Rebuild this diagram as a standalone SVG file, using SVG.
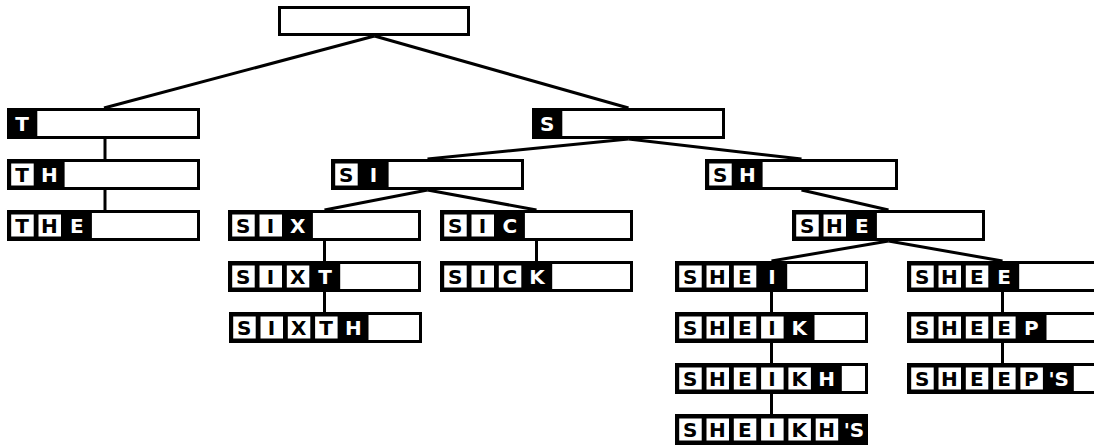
<svg xmlns="http://www.w3.org/2000/svg" width="1094" height="445" viewBox="0 0 1094 445">
<style>
.box{fill:#fff;stroke:#000;stroke-width:3}
.blk{fill:#000}
.wc{fill:#fff}
.t{font-family:"DejaVu Sans","Liberation Sans",sans-serif;font-weight:bold;font-size:20px;text-anchor:middle}
.tw{fill:#fff}
.tb{fill:#000}
.conn line{stroke:#000;stroke-width:3;stroke-linecap:butt}
</style>
<rect width="1094" height="445" fill="#fff"/>
<g class="conn" id="connectors">
<line x1="374.5" y1="36" x2="104" y2="108"/>
<line x1="374.5" y1="36" x2="628.5" y2="108"/>
<line x1="105" y1="139" x2="105" y2="159"/>
<line x1="105" y1="190" x2="105" y2="210"/>
<line x1="628.5" y1="139" x2="427.5" y2="159"/>
<line x1="628.5" y1="139" x2="801.5" y2="159"/>
<line x1="427.5" y1="190" x2="324.5" y2="210"/>
<line x1="427.5" y1="190" x2="536.5" y2="210"/>
<line x1="801.5" y1="190" x2="888.5" y2="210"/>
<line x1="324.5" y1="241" x2="324.5" y2="261"/>
<line x1="324.5" y1="292" x2="324.5" y2="312"/>
<line x1="536.5" y1="241" x2="536.5" y2="261"/>
<line x1="888.5" y1="241" x2="771.5" y2="261"/>
<line x1="888.5" y1="241" x2="1002.5" y2="261"/>
<line x1="771.5" y1="292" x2="771.5" y2="312"/>
<line x1="771.5" y1="343" x2="771.5" y2="363"/>
<line x1="771.5" y1="394" x2="771.5" y2="414"/>
<line x1="1002.5" y1="292" x2="1002.5" y2="312"/>
<line x1="1002.5" y1="343" x2="1002.5" y2="363"/>
</g>
<g id="n-root" transform="translate(278,6)">
<rect class="box" x="1.5" y="1.5" width="189" height="27"/>
</g>
<g id="n-T" transform="translate(7,108)" class="t">
<rect class="box" x="1.5" y="1.5" width="190" height="28"/>
<rect class="blk" x="1.5" y="1.5" width="28.8" height="28"/>
<text class="tw" x="15.15" y="23">T</text>
</g>
<g id="n-TH" transform="translate(7,159)" class="t">
<rect class="box" x="1.5" y="1.5" width="190" height="28"/>
<rect class="blk" x="1.5" y="1.5" width="56.1" height="28"/>
<rect class="wc" x="4.2" y="4.5" width="22.5" height="22"/>
<text class="tb" x="15.15" y="23">T</text>
<text class="tw" x="42.45" y="23">H</text>
</g>
<g id="n-THE" transform="translate(7,210)" class="t">
<rect class="box" x="1.5" y="1.5" width="190" height="28"/>
<rect class="blk" x="1.5" y="1.5" width="83.4" height="28"/>
<rect class="wc" x="4.2" y="4.5" width="22.5" height="22"/>
<rect class="wc" x="31.5" y="4.5" width="22.5" height="22"/>
<text class="tb" x="15.15" y="23">T</text>
<text class="tb" x="42.45" y="23">H</text>
<text class="tw" x="69.75" y="23">E</text>
</g>
<g id="n-S" transform="translate(532,108)" class="t">
<rect class="box" x="1.5" y="1.5" width="190" height="28"/>
<rect class="blk" x="1.5" y="1.5" width="28.8" height="28"/>
<text class="tw" x="15.15" y="23">S</text>
</g>
<g id="n-SI" transform="translate(331,159)" class="t">
<rect class="box" x="1.5" y="1.5" width="190" height="28"/>
<rect class="blk" x="1.5" y="1.5" width="56.1" height="28"/>
<rect class="wc" x="4.2" y="4.5" width="22.5" height="22"/>
<text class="tb" x="15.15" y="23">S</text>
<text class="tw" x="42.45" y="23">I</text>
</g>
<g id="n-SH" transform="translate(705,159)" class="t">
<rect class="box" x="1.5" y="1.5" width="190" height="28"/>
<rect class="blk" x="1.5" y="1.5" width="56.1" height="28"/>
<rect class="wc" x="4.2" y="4.5" width="22.5" height="22"/>
<text class="tb" x="15.15" y="23">S</text>
<text class="tw" x="42.45" y="23">H</text>
</g>
<g id="n-SIX" transform="translate(228,210)" class="t">
<rect class="box" x="1.5" y="1.5" width="190" height="28"/>
<rect class="blk" x="1.5" y="1.5" width="83.4" height="28"/>
<rect class="wc" x="4.2" y="4.5" width="22.5" height="22"/>
<rect class="wc" x="31.5" y="4.5" width="22.5" height="22"/>
<text class="tb" x="15.15" y="23">S</text>
<text class="tb" x="42.45" y="23">I</text>
<text class="tw" x="69.75" y="23">X</text>
</g>
<g id="n-SIC" transform="translate(440,210)" class="t">
<rect class="box" x="1.5" y="1.5" width="190" height="28"/>
<rect class="blk" x="1.5" y="1.5" width="83.4" height="28"/>
<rect class="wc" x="4.2" y="4.5" width="22.5" height="22"/>
<rect class="wc" x="31.5" y="4.5" width="22.5" height="22"/>
<text class="tb" x="15.15" y="23">S</text>
<text class="tb" x="42.45" y="23">I</text>
<text class="tw" x="69.75" y="23">C</text>
</g>
<g id="n-SHE" transform="translate(792,210)" class="t">
<rect class="box" x="1.5" y="1.5" width="190" height="28"/>
<rect class="blk" x="1.5" y="1.5" width="83.4" height="28"/>
<rect class="wc" x="4.2" y="4.5" width="22.5" height="22"/>
<rect class="wc" x="31.5" y="4.5" width="22.5" height="22"/>
<text class="tb" x="15.15" y="23">S</text>
<text class="tb" x="42.45" y="23">H</text>
<text class="tw" x="69.75" y="23">E</text>
</g>
<g id="n-SIXT" transform="translate(228,261)" class="t">
<rect class="box" x="1.5" y="1.5" width="190" height="28"/>
<rect class="blk" x="1.5" y="1.5" width="110.7" height="28"/>
<rect class="wc" x="4.2" y="4.5" width="22.5" height="22"/>
<rect class="wc" x="31.5" y="4.5" width="22.5" height="22"/>
<rect class="wc" x="58.8" y="4.5" width="22.5" height="22"/>
<text class="tb" x="15.15" y="23">S</text>
<text class="tb" x="42.45" y="23">I</text>
<text class="tb" x="69.75" y="23">X</text>
<text class="tw" x="97.05" y="23">T</text>
</g>
<g id="n-SICK" transform="translate(440,261)" class="t">
<rect class="box" x="1.5" y="1.5" width="190" height="28"/>
<rect class="blk" x="1.5" y="1.5" width="110.7" height="28"/>
<rect class="wc" x="4.2" y="4.5" width="22.5" height="22"/>
<rect class="wc" x="31.5" y="4.5" width="22.5" height="22"/>
<rect class="wc" x="58.8" y="4.5" width="22.5" height="22"/>
<text class="tb" x="15.15" y="23">S</text>
<text class="tb" x="42.45" y="23">I</text>
<text class="tb" x="69.75" y="23">C</text>
<text class="tw" x="97.05" y="23">K</text>
</g>
<g id="n-SHEI" transform="translate(675,261)" class="t">
<rect class="box" x="1.5" y="1.5" width="190" height="28"/>
<rect class="blk" x="1.5" y="1.5" width="110.7" height="28"/>
<rect class="wc" x="4.2" y="4.5" width="22.5" height="22"/>
<rect class="wc" x="31.5" y="4.5" width="22.5" height="22"/>
<rect class="wc" x="58.8" y="4.5" width="22.5" height="22"/>
<text class="tb" x="15.15" y="23">S</text>
<text class="tb" x="42.45" y="23">H</text>
<text class="tb" x="69.75" y="23">E</text>
<text class="tw" x="97.05" y="23">I</text>
</g>
<g id="n-SHEE" transform="translate(907,261)" class="t">
<rect class="box" x="1.5" y="1.5" width="190" height="28"/>
<rect class="blk" x="1.5" y="1.5" width="110.7" height="28"/>
<rect class="wc" x="4.2" y="4.5" width="22.5" height="22"/>
<rect class="wc" x="31.5" y="4.5" width="22.5" height="22"/>
<rect class="wc" x="58.8" y="4.5" width="22.5" height="22"/>
<text class="tb" x="15.15" y="23">S</text>
<text class="tb" x="42.45" y="23">H</text>
<text class="tb" x="69.75" y="23">E</text>
<text class="tw" x="97.05" y="23">E</text>
</g>
<g id="n-SIXTH" transform="translate(229,312)" class="t">
<rect class="box" x="1.5" y="1.5" width="190" height="28"/>
<rect class="blk" x="1.5" y="1.5" width="138" height="28"/>
<rect class="wc" x="4.2" y="4.5" width="22.5" height="22"/>
<rect class="wc" x="31.5" y="4.5" width="22.5" height="22"/>
<rect class="wc" x="58.8" y="4.5" width="22.5" height="22"/>
<rect class="wc" x="86.1" y="4.5" width="22.5" height="22"/>
<text class="tb" x="15.15" y="23">S</text>
<text class="tb" x="42.45" y="23">I</text>
<text class="tb" x="69.75" y="23">X</text>
<text class="tb" x="97.05" y="23">T</text>
<text class="tw" x="124.35" y="23">H</text>
</g>
<g id="n-SHEIK" transform="translate(675,312)" class="t">
<rect class="box" x="1.5" y="1.5" width="190" height="28"/>
<rect class="blk" x="1.5" y="1.5" width="138" height="28"/>
<rect class="wc" x="4.2" y="4.5" width="22.5" height="22"/>
<rect class="wc" x="31.5" y="4.5" width="22.5" height="22"/>
<rect class="wc" x="58.8" y="4.5" width="22.5" height="22"/>
<rect class="wc" x="86.1" y="4.5" width="22.5" height="22"/>
<text class="tb" x="15.15" y="23">S</text>
<text class="tb" x="42.45" y="23">H</text>
<text class="tb" x="69.75" y="23">E</text>
<text class="tb" x="97.05" y="23">I</text>
<text class="tw" x="124.35" y="23">K</text>
</g>
<g id="n-SHEEP" transform="translate(907,312)" class="t">
<rect class="box" x="1.5" y="1.5" width="190" height="28"/>
<rect class="blk" x="1.5" y="1.5" width="138" height="28"/>
<rect class="wc" x="4.2" y="4.5" width="22.5" height="22"/>
<rect class="wc" x="31.5" y="4.5" width="22.5" height="22"/>
<rect class="wc" x="58.8" y="4.5" width="22.5" height="22"/>
<rect class="wc" x="86.1" y="4.5" width="22.5" height="22"/>
<text class="tb" x="15.15" y="23">S</text>
<text class="tb" x="42.45" y="23">H</text>
<text class="tb" x="69.75" y="23">E</text>
<text class="tb" x="97.05" y="23">E</text>
<text class="tw" x="124.35" y="23">P</text>
</g>
<g id="n-SHEIKH" transform="translate(675,363)" class="t">
<rect class="box" x="1.5" y="1.5" width="190" height="28"/>
<rect class="blk" x="1.5" y="1.5" width="165.3" height="28"/>
<rect class="wc" x="4.2" y="4.5" width="22.5" height="22"/>
<rect class="wc" x="31.5" y="4.5" width="22.5" height="22"/>
<rect class="wc" x="58.8" y="4.5" width="22.5" height="22"/>
<rect class="wc" x="86.1" y="4.5" width="22.5" height="22"/>
<rect class="wc" x="113.4" y="4.5" width="22.5" height="22"/>
<text class="tb" x="15.15" y="23">S</text>
<text class="tb" x="42.45" y="23">H</text>
<text class="tb" x="69.75" y="23">E</text>
<text class="tb" x="97.05" y="23">I</text>
<text class="tb" x="124.35" y="23">K</text>
<text class="tw" x="151.65" y="23">H</text>
</g>
<g id="n-SHEEPS" transform="translate(907,363)" class="t">
<rect class="box" x="1.5" y="1.5" width="190" height="28"/>
<rect class="blk" x="1.5" y="1.5" width="165.3" height="28"/>
<rect class="wc" x="4.2" y="4.5" width="22.5" height="22"/>
<rect class="wc" x="31.5" y="4.5" width="22.5" height="22"/>
<rect class="wc" x="58.8" y="4.5" width="22.5" height="22"/>
<rect class="wc" x="86.1" y="4.5" width="22.5" height="22"/>
<rect class="wc" x="113.4" y="4.5" width="22.5" height="22"/>
<text class="tb" x="15.15" y="23">S</text>
<text class="tb" x="42.45" y="23">H</text>
<text class="tb" x="69.75" y="23">E</text>
<text class="tb" x="97.05" y="23">E</text>
<text class="tb" x="124.35" y="23">P</text>
<text class="tw" x="151.65" y="23">'S</text>
</g>
<g id="n-SHEIKHS" transform="translate(675,414)" class="t">
<rect class="box" x="1.5" y="1.5" width="190" height="28"/>
<rect class="blk" x="1.5" y="1.5" width="190" height="28"/>
<rect class="wc" x="4.2" y="4.5" width="22.5" height="22"/>
<rect class="wc" x="31.5" y="4.5" width="22.5" height="22"/>
<rect class="wc" x="58.8" y="4.5" width="22.5" height="22"/>
<rect class="wc" x="86.1" y="4.5" width="22.5" height="22"/>
<rect class="wc" x="113.4" y="4.5" width="22.5" height="22"/>
<rect class="wc" x="140.7" y="4.5" width="22.5" height="22"/>
<text class="tb" x="15.15" y="23">S</text>
<text class="tb" x="42.45" y="23">H</text>
<text class="tb" x="69.75" y="23">E</text>
<text class="tb" x="97.05" y="23">I</text>
<text class="tb" x="124.35" y="23">K</text>
<text class="tb" x="151.65" y="23">H</text>
<text class="tw" x="178.95" y="23">'S</text>
</g>
</svg>
